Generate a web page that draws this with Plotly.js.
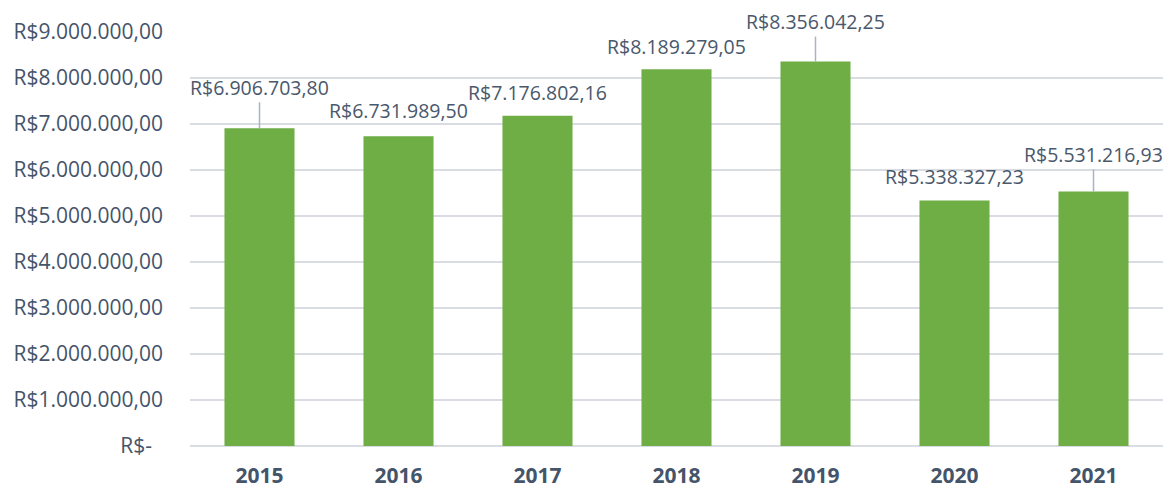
<!DOCTYPE html>
<html>
<head>
<meta charset="utf-8">
<script src="https://cdn.plot.ly/plotly-3.0.1.min.js"></script>
<style>html,body{margin:0;padding:0;background:#fff}#chart{width:1165px;height:489px}</style>
</head>
<body>
<div id="chart"></div>
<script>
const years = ['2015','2016','2017','2018','2019','2020','2021'];
const values = [6906703.80, 6731989.50, 7176802.16, 8189279.05, 8356042.25, 5338327.23, 5531216.93];
const tickValues = [0,1000000,2000000,3000000,4000000,5000000,6000000,7000000,8000000,9000000];

function brl(v){
  if (v === 0) return 'R$-\u00a0\u00a0';
  const parts = v.toFixed(2).split('.');
  const intPart = parts[0].replace(/\B(?=(\d{3})+(?!\d))/g, '.');
  return 'R$' + intPart + ',' + parts[1];
}

// label layout offsets (pixels) and whether a leader line is drawn
const labelOffset = [-41, -26, -23, -23, -40, -24, -37];
const leader = [true, false, false, false, true, false, true];

const textColor = '#44546A';
const annotations = years.map((y,i)=>({
  x: i, y: values[i], xref:'x', yref:'y',
  text: brl(values[i]),
  showarrow: true, ax: 0, ay: labelOffset[i],
  arrowhead: 0, arrowwidth: 1.5, standoff: 0, startstandoff: 0,
  arrowcolor: leader[i] ? '#A9B4C2' : 'rgba(0,0,0,0)',
  font: {family:'Open Sans, sans-serif', size: 19.5, color: '#4A586C'}
}));

const trace = {
  type:'bar', x: years, y: values,
  marker:{color:'#6FAD45'},
  hoverinfo:'none'
};

const layout = {
  width:1165, height:489,
  margin:{l:190, r:2, t:32, b:43},
  paper_bgcolor:'#fff', plot_bgcolor:'#fff',
  bargap:0.496,
  showlegend:false,
  xaxis:{
    type:'category', range:[-0.5, years.length-0.5], autorange:false,
    showgrid:false, zeroline:false, showline:false, ticks:'',
    tickfont:{family:'Open Sans, sans-serif', size:21, color:textColor, weight:'bold'},
    ticklabelstandoff: 15
  },
  yaxis:{
    range:[0,9000000], autorange:false, tickvals: tickValues, ticktext: tickValues.map(brl),
    showgrid:true, gridcolor:'#D9DDE3', gridwidth:1.5,
    zeroline:true, zerolinecolor:'#D9DDE3', zerolinewidth:1.5,
    showline:false, ticks:'', ticklabelstandoff: 26,
    tickfont:{family:'Open Sans, sans-serif', size:21, color:textColor}
  },
  annotations: annotations
};
Plotly.newPlot('chart', [trace], layout, {displayModeBar:false, staticPlot:true});
</script>
</body>
</html>
